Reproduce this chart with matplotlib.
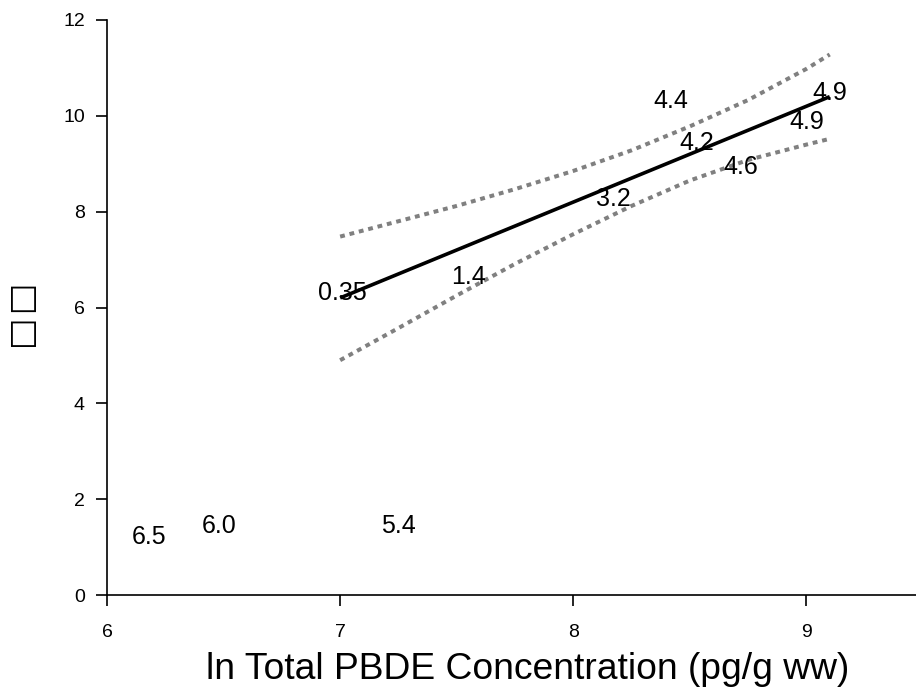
import matplotlib
matplotlib.use("Agg")
import matplotlib.pyplot as plt

plt.rcParams['font.family'] = ['Liberation Sans', 'DejaVu Sans']

# labelled samples: position and the value written at it
sample_x = [7.01, 7.55, 8.17, 8.53, 8.72, 8.42, 9.10, 9.00, 6.18, 6.48, 7.25]
sample_y = [6.30, 6.64, 8.27, 9.44, 8.94, 10.31, 10.48, 9.87, 1.21, 1.44, 1.44]
sample_labels = ["0.35", "1.4", "3.2", "4.2", "4.6", "4.4", "4.9", "4.9",
                 "6.5", "6.0", "5.4"]

# regression line end points
fit_x = [7.0, 9.1]
fit_y = [6.2, 10.4]

# confidence band read along the fit
band_x = [7.0, 7.25, 7.5, 7.75, 8.0, 8.25, 8.5, 8.75, 9.0, 9.1]
band_upper = [7.48, 7.80, 8.12, 8.47, 8.85, 9.28, 9.78, 10.33, 10.98, 11.28]
band_lower = [4.90, 5.57, 6.25, 6.91, 7.53, 8.12, 8.65, 9.08, 9.40, 9.52]

x_ticks = [6, 7, 8, 9]
y_ticks = [0, 2, 4, 6, 8, 10, 12]

fig = plt.figure(figsize=(9.16, 6.87), dpi=100)
ax = fig.add_axes([0.1168, 0.1339, 0.8832, 0.837])

ax.plot(fit_x, fit_y, color="black", lw=2.6, solid_capstyle="butt")
for band in (band_upper, band_lower):
    ax.plot(band_x, band, color="#808080", lw=2.9,
            linestyle=(0, (1.2, 1.2)), dash_capstyle="butt")

for x, y, s in zip(sample_x, sample_y, sample_labels):
    ax.text(x, y, s, fontsize=18, ha="center", va="center")

ax.set_xlim(6, 9.47)
ax.set_ylim(0, 12)
ax.set_xticks(x_ticks)
ax.set_yticks(y_ticks)
ax.tick_params(axis="both", direction="out", length=8, width=1.2,
               labelsize=14)
ax.tick_params(axis="x", pad=13)
ax.tick_params(axis="y", pad=8)
for side in ("top", "right"):
    ax.spines[side].set_visible(False)
for side in ("left", "bottom"):
    ax.spines[side].set_linewidth(1.2)

ax.set_xlabel("ln Total PBDE Concentration (pg/g ww)", fontsize=26.8)
ax.xaxis.set_label_coords(0.52, -0.13)
ax.xaxis.label.set_va("center")
# y axis title, drawn as two empty boxes
fig.text(0.0257, 0.54, "\u25a1\u200a\u25a1", rotation=90, fontsize=24,
         family=["DejaVu Sans"], ha="center", va="center")

fig.savefig("out.png", dpi=100)
